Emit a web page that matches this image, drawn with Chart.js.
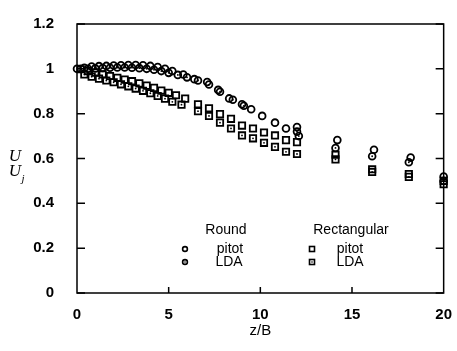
<!DOCTYPE html>
<html>
<head>
<meta charset="utf-8">
<title>Centreline velocity decay</title>
<script src="https://cdn.jsdelivr.net/npm/chart.js@4"></script>
<style>
  html, body { margin: 0; padding: 0; background: #fff; }
  canvas { display: block; }
</style>
</head>
<body>
<canvas id="decay" width="457" height="351"></canvas>
<script>
// centreline velocity U/Uj against z/B
const roundPitotX = [0, 0.4, 0.8, 1.2, 1.6, 2.0, 2.4, 2.8, 3.2, 3.6, 4.0, 4.4, 4.8, 5.2, 5.8, 6.4, 7.1, 7.7, 8.3, 9.0, 9.5, 10.1, 10.8, 11.4, 12.0, 14.2, 16.2, 18.2, 20.0];
const roundPitotY = [1.0, 1.005, 1.01, 1.012, 1.013, 1.015, 1.016, 1.017, 1.017, 1.016, 1.013, 1.008, 1.0, 0.99, 0.975, 0.954, 0.941, 0.906, 0.868, 0.842, 0.82, 0.79, 0.76, 0.734, 0.74, 0.682, 0.639, 0.604, 0.52];

const roundLdaX = [0.2, 0.6, 1.0, 1.4, 1.8, 2.2, 2.6, 3.0, 3.4, 3.8, 4.2, 4.6, 5.0, 5.5, 6.0, 6.6, 7.2, 7.8, 8.5, 9.1, 12.0, 12.1, 14.1, 16.1, 18.1, 20.0];
const roundLdaY = [1.0, 1.0, 1.002, 1.004, 1.005, 1.006, 1.006, 1.005, 1.003, 1.0, 0.996, 0.99, 0.982, 0.973, 0.962, 0.948, 0.93, 0.898, 0.862, 0.835, 0.72, 0.70, 0.647, 0.61, 0.583, 0.50];

const rectPitotX = [0.2, 0.6, 1.0, 1.4, 1.8, 2.2, 2.6, 3.0, 3.4, 3.8, 4.2, 4.6, 5.0, 5.4, 5.9, 6.6, 7.2, 7.8, 8.4, 9.0, 9.6, 10.2, 10.8, 11.4, 12.0, 14.1, 16.1, 18.1, 20.0];
const rectPitotY = [0.998, 0.99, 0.983, 0.975, 0.968, 0.96, 0.952, 0.945, 0.935, 0.925, 0.915, 0.903, 0.893, 0.882, 0.867, 0.842, 0.824, 0.798, 0.777, 0.747, 0.734, 0.716, 0.703, 0.682, 0.673, 0.617, 0.552, 0.531, 0.50];

const rectLdaX = [0.4, 0.8, 1.2, 1.6, 2.0, 2.4, 2.8, 3.2, 3.6, 4.0, 4.4, 4.8, 5.2, 5.7, 6.6, 7.2, 7.8, 8.4, 9.0, 9.6, 10.2, 10.8, 11.4, 12.0, 14.1, 16.1, 18.1, 20.0];
const rectLdaY = [0.975, 0.965, 0.956, 0.948, 0.94, 0.931, 0.922, 0.912, 0.902, 0.891, 0.879, 0.867, 0.853, 0.84, 0.811, 0.79, 0.76, 0.734, 0.703, 0.69, 0.67, 0.652, 0.63, 0.62, 0.596, 0.54, 0.518, 0.485];

const xTicks = [0, 5, 10, 15, 20];
const yTicks = [0, 0.2, 0.4, 0.6, 0.8, 1.0, 1.2];

function pairs(xs, ys) {
    return xs.map((x, i) => ({ x: x, y: ys[i] }));
}

function markers(label, xs, ys, style, radius) {
    return {
        label: label,
        data: pairs(xs, ys),
        pointStyle: style,
        pointRadius: radius,
        pointBorderWidth: 1.8,
        pointBorderColor: '#000',
        pointBackgroundColor: 'rgba(255,255,255,0)',
        showLine: false,
        clip: false
    };
}

// small filled dot sitting in the centre of the LDA markers
function centreDots(label, xs, ys) {
    return {
        label: label,
        data: pairs(xs, ys),
        pointStyle: 'circle',
        pointRadius: 0.9,
        pointBorderWidth: 0,
        pointBackgroundColor: '#000',
        showLine: false,
        clip: false
    };
}

const font = "'Liberation Sans', Arial, sans-serif";

const framePlugin = {
    id: 'frame',
    beforeDatasetsDraw(chart) {
        const { ctx, chartArea: a, scales } = chart;
        ctx.save();
        ctx.strokeStyle = '#000';
        ctx.lineWidth = 1.5;
        ctx.strokeRect(a.left, a.top, a.right - a.left, a.bottom - a.top);
        ctx.beginPath();
        yTicks.forEach(v => {
            const py = scales.y.getPixelForValue(v);
            ctx.moveTo(a.left, py); ctx.lineTo(a.left + 8, py);
            ctx.moveTo(a.right, py); ctx.lineTo(a.right - 8, py);
        });
        xTicks.slice(1, -1).forEach(v => {
            const px = scales.x.getPixelForValue(v);
            ctx.moveTo(px, a.bottom); ctx.lineTo(px, a.bottom - 6);
        });
        ctx.stroke();
        ctx.restore();
    },
    afterDraw(chart) {
        const { ctx, chartArea: a } = chart;
        ctx.save();
        ctx.fillStyle = '#000';
        ctx.textBaseline = 'middle';
        ctx.textAlign = 'center';

        // x axis title
        ctx.font = '15px ' + font;
        ctx.fillText('z/B', (a.left + a.right) / 2, 331);

        // y axis title, U over U_j
        ctx.font = "italic 17px 'Liberation Serif', serif";
        ctx.fillText('U', 15, 157);
        ctx.fillText('U', 15, 172);
        ctx.font = "italic 11px 'Liberation Serif', serif";
        ctx.fillText('j', 23, 179);

        // legend block
        ctx.font = '14px ' + font;
        ctx.fillText('Round', 226, 230);
        ctx.fillText('Rectangular', 351, 230);
        ctx.fillText('pitot', 230, 249);
        ctx.fillText('LDA', 229, 262);
        ctx.fillText('pitot', 350, 249);
        ctx.fillText('LDA', 350, 262);

        ctx.strokeStyle = '#000';
        ctx.lineWidth = 1.6;
        ctx.beginPath(); ctx.arc(185, 249, 2.4, 0, Math.PI * 2); ctx.stroke();
        ctx.beginPath(); ctx.arc(185, 262, 2.4, 0, Math.PI * 2); ctx.stroke();
        ctx.strokeRect(309.5, 246.5, 5, 5);
        ctx.strokeRect(309.5, 259.5, 5, 5);
        ctx.beginPath(); ctx.arc(185, 262, 0.8, 0, Math.PI * 2); ctx.fill();
        ctx.beginPath(); ctx.arc(312, 262, 0.8, 0, Math.PI * 2); ctx.fill();
        ctx.restore();
    }
};

new Chart(document.getElementById('decay').getContext('2d'), {
    type: 'scatter',
    data: {
        datasets: [
            markers('Round pitot', roundPitotX, roundPitotY, 'circle', 3.4),
            markers('Round LDA', roundLdaX, roundLdaY, 'circle', 3.4),
            centreDots('Round LDA centre', roundLdaX, roundLdaY),
            markers('Rectangular pitot', rectPitotX, rectPitotY, 'rect', 4.5),
            markers('Rectangular LDA', rectLdaX, rectLdaY, 'rect', 4.5),
            centreDots('Rectangular LDA centre', rectLdaX, rectLdaY)
        ]
    },
    options: {
        responsive: false,
        animation: false,
        layout: { padding: { top: 14, right: 12, left: 0, bottom: 0 } },
        plugins: {
            legend: { display: false },
            tooltip: { enabled: false }
        },
        scales: {
            x: {
                type: 'linear',
                min: 0,
                max: 20,
                grid: { display: false },
                border: { display: false },
                afterFit: s => { s.height = 58; },
                afterBuildTicks: s => { s.ticks = xTicks.map(v => ({ value: v })); },
                ticks: {
                    padding: 5,
                    color: '#000',
                    font: { family: font, size: 15, weight: 'bold' }
                }
            },
            y: {
                type: 'linear',
                min: 0,
                max: 1.2,
                grid: { display: false },
                border: { display: false },
                afterFit: s => { s.width = 77; },
                afterBuildTicks: s => { s.ticks = yTicks.map(v => ({ value: v })); },
                ticks: {
                    padding: 15,
                    color: '#000',
                    font: { family: font, size: 15, weight: 'bold' },
                    callback: v => String(Number(v.toFixed(1)))
                }
            }
        }
    },
    plugins: [framePlugin]
});
</script>
</body>
</html>
